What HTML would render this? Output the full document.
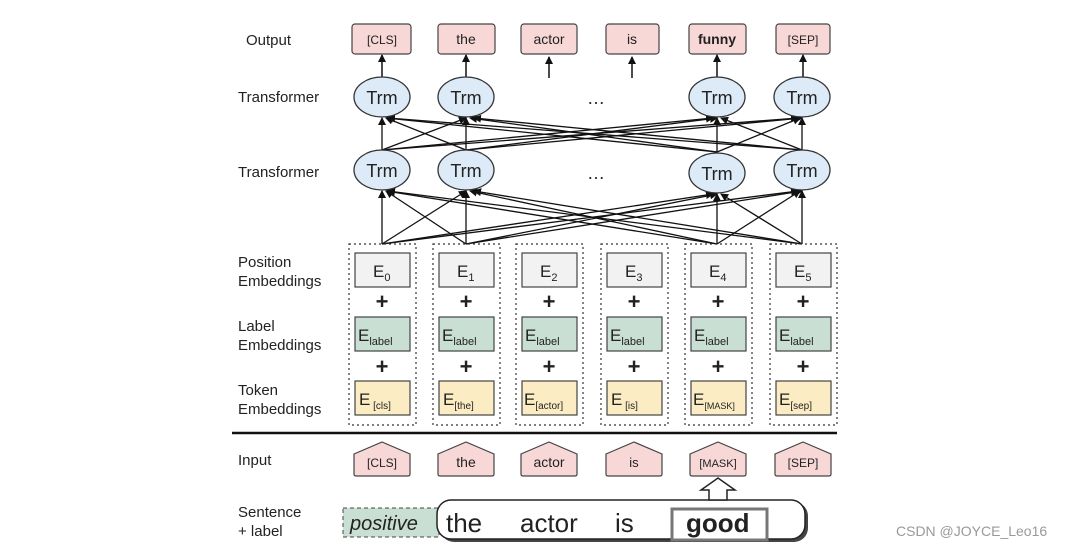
<!DOCTYPE html>
<html><head><meta charset="utf-8"><style>
body{margin:0;background:#fff}
svg{display:block}
text{font-family:"Liberation Sans",sans-serif;fill:#222}
</style></head><body>
<svg width="1080" height="552" viewBox="0 0 1080 552">
<defs>
<marker id="a" markerWidth="8" markerHeight="8" refX="7" refY="4" orient="auto" markerUnits="userSpaceOnUse"><path d="M0,0L8,4L0,8z" fill="#111"/></marker>
</defs>
<!-- left labels -->
<g font-size="15">
<text x="246" y="45">Output</text>
<text x="238" y="102">Transformer</text>
<text x="238" y="177">Transformer</text>
<text x="238" y="267">Position</text><text x="238" y="286">Embeddings</text>
<text x="238" y="331">Label</text><text x="238" y="350">Embeddings</text>
<text x="238" y="395">Token</text><text x="238" y="414">Embeddings</text>
<text x="238" y="465">Input</text>
<text x="238" y="517">Sentence</text><text x="238" y="536">+ label</text>
</g>
<!-- output boxes -->
<g fill="#f8d7d7" stroke="#444" stroke-width="1.2">
<rect x="352" y="24" width="59" height="30" rx="3"/>
<rect x="438" y="24" width="57" height="30" rx="3"/>
<rect x="521" y="24" width="56" height="30" rx="3"/>
<rect x="606" y="24" width="53" height="30" rx="3"/>
<rect x="689" y="24" width="57" height="30" rx="3"/>
<rect x="776" y="24" width="54" height="30" rx="3"/>
</g>
<g font-size="14" text-anchor="middle">
<text x="382" y="44" font-size="12">[CLS]</text>
<text x="466" y="44">the</text>
<text x="549" y="44">actor</text>
<text x="632" y="44">is</text>
<text x="717" y="44" font-weight="bold">funny</text>
<text x="803" y="44" font-size="12">[SEP]</text>
</g>
<g stroke="#111" stroke-width="1.5" marker-end="url(#a)">
<line x1="382" y1="77" x2="382" y2="55"/>
<line x1="466" y1="77" x2="466" y2="55"/>
<line x1="549" y1="78" x2="549" y2="57"/>
<line x1="632" y1="78" x2="632" y2="57"/>
<line x1="717" y1="77" x2="717" y2="55"/>
<line x1="803" y1="77" x2="803" y2="55"/>
</g>
<!-- connections upper -->
<g stroke="#111" stroke-width="1.3" marker-end="url(#a)">
<line x1="382" y1="150" x2="382" y2="118"/><line x1="382" y1="150" x2="466" y2="118"/><line x1="382" y1="150" x2="713" y2="118"/><line x1="382" y1="150" x2="798" y2="118"/>
<line x1="466" y1="150" x2="386" y2="118"/><line x1="466" y1="150" x2="466" y2="118"/><line x1="466" y1="150" x2="717" y2="118"/><line x1="466" y1="150" x2="802" y2="118"/>
<line x1="717" y1="152" x2="386" y2="118"/><line x1="717" y1="152" x2="470" y2="118"/><line x1="717" y1="152" x2="717" y2="118"/><line x1="717" y1="152" x2="800" y2="118"/>
<line x1="802" y1="150" x2="388" y2="118"/><line x1="802" y1="150" x2="474" y2="118"/><line x1="802" y1="150" x2="721" y2="118"/><line x1="802" y1="150" x2="802" y2="118"/>
</g>
<!-- connections lower -->
<g stroke="#111" stroke-width="1.3" marker-end="url(#a)">
<line x1="382" y1="244" x2="382" y2="191"/><line x1="382" y1="244" x2="466" y2="191"/><line x1="382" y1="244" x2="713" y2="194"/><line x1="382" y1="244" x2="798" y2="191"/>
<line x1="466" y1="244" x2="386" y2="191"/><line x1="466" y1="244" x2="466" y2="191"/><line x1="466" y1="244" x2="717" y2="194"/><line x1="466" y1="244" x2="802" y2="191"/>
<line x1="717" y1="244" x2="386" y2="191"/><line x1="717" y1="244" x2="470" y2="191"/><line x1="717" y1="244" x2="717" y2="194"/><line x1="717" y1="244" x2="800" y2="191"/>
<line x1="802" y1="244" x2="388" y2="191"/><line x1="802" y1="244" x2="474" y2="191"/><line x1="802" y1="244" x2="721" y2="194"/><line x1="802" y1="244" x2="802" y2="191"/>
</g>
<!-- Trm ellipses -->
<g fill="#ddeaf7" stroke="#333" stroke-width="1.3">
<ellipse cx="382" cy="97" rx="28" ry="20"/><ellipse cx="466" cy="97" rx="28" ry="20"/>
<ellipse cx="717" cy="97" rx="28" ry="20"/><ellipse cx="802" cy="97" rx="28" ry="20"/>
<ellipse cx="382" cy="170" rx="28" ry="20"/><ellipse cx="466" cy="170" rx="28" ry="20"/>
<ellipse cx="717" cy="173" rx="28" ry="20"/><ellipse cx="802" cy="170" rx="28" ry="20"/>
</g>
<g font-size="18" text-anchor="middle">
<text x="382" y="104">Trm</text><text x="466" y="104">Trm</text><text x="717" y="104">Trm</text><text x="802" y="104">Trm</text>
<text x="382" y="177">Trm</text><text x="466" y="177">Trm</text><text x="717" y="180">Trm</text><text x="802" y="177">Trm</text>
<text x="596" y="104">…</text><text x="596" y="179">…</text>
</g>
<!-- embedding columns -->
<g id="cols">
<g fill="none" stroke="#333" stroke-width="1.2" stroke-dasharray="2,3">
<rect x="349" y="244" width="67" height="181"/><rect x="433" y="244" width="67" height="181"/>
<rect x="516" y="244" width="67" height="181"/><rect x="601" y="244" width="67" height="181"/>
<rect x="685" y="244" width="67" height="181"/><rect x="770" y="244" width="67" height="181"/>
</g>
</g>
<g stroke="#444" stroke-width="1.2">
<g fill="#f2f2f2">
<rect x="355" y="253" width="55" height="34"/><rect x="439" y="253" width="55" height="34"/><rect x="522" y="253" width="55" height="34"/><rect x="607" y="253" width="55" height="34"/><rect x="691" y="253" width="55" height="34"/><rect x="776" y="253" width="55" height="34"/>
</g>
<g fill="#c9dfd3">
<rect x="355" y="317" width="55" height="34"/><rect x="439" y="317" width="55" height="34"/><rect x="522" y="317" width="55" height="34"/><rect x="607" y="317" width="55" height="34"/><rect x="691" y="317" width="55" height="34"/><rect x="776" y="317" width="55" height="34"/>
</g>
<g fill="#fbecc3">
<rect x="355" y="381" width="55" height="34"/><rect x="439" y="381" width="55" height="34"/><rect x="522" y="381" width="55" height="34"/><rect x="607" y="381" width="55" height="34"/><rect x="691" y="381" width="55" height="34"/><rect x="776" y="381" width="55" height="34"/>
</g>
</g>
<g font-size="17">
<text x="373" y="277">E<tspan font-size="11" dy="4">0</tspan></text>
<text x="457" y="277">E<tspan font-size="11" dy="4">1</tspan></text>
<text x="540" y="277">E<tspan font-size="11" dy="4">2</tspan></text>
<text x="625" y="277">E<tspan font-size="11" dy="4">3</tspan></text>
<text x="709" y="277">E<tspan font-size="11" dy="4">4</tspan></text>
<text x="794" y="277">E<tspan font-size="11" dy="4">5</tspan></text>
<text x="358" y="341">E<tspan font-size="11" dy="4">label</tspan></text>
<text x="442" y="341">E<tspan font-size="11" dy="4">label</tspan></text>
<text x="525" y="341">E<tspan font-size="11" dy="4">label</tspan></text>
<text x="610" y="341">E<tspan font-size="11" dy="4">label</tspan></text>
<text x="694" y="341">E<tspan font-size="11" dy="4">label</tspan></text>
<text x="779" y="341">E<tspan font-size="11" dy="4">label</tspan></text>
<text x="359" y="405">E<tspan font-size="10" dy="4"> [cls]</tspan></text>
<text x="443" y="405">E<tspan font-size="10" dy="4">[the]</tspan></text>
<text x="524" y="405">E<tspan font-size="10" dy="4">[actor]</tspan></text>
<text x="611" y="405">E<tspan font-size="10" dy="4"> [is]</tspan></text>
<text x="693" y="405">E<tspan font-size="9" dy="4">[MASK]</tspan></text>
<text x="779" y="405">E<tspan font-size="10" dy="4">[sep]</tspan></text>
</g>
<g font-size="22" font-weight="bold" text-anchor="middle">
<text x="382" y="309">+</text><text x="466" y="309">+</text><text x="549" y="309">+</text><text x="634" y="309">+</text><text x="718" y="309">+</text><text x="803" y="309">+</text>
<text x="382" y="374">+</text><text x="466" y="374">+</text><text x="549" y="374">+</text><text x="634" y="374">+</text><text x="718" y="374">+</text><text x="803" y="374">+</text>
</g>
<line x1="232" y1="433" x2="837" y2="433" stroke="#111" stroke-width="2.5"/>
<!-- input pentagons -->
<g fill="#f8d7d7" stroke="#444" stroke-width="1.2">
<path d="M354,454 L382,442 L410,454 L410,474 Q410,476 408,476 L356,476 Q354,476 354,474Z"/>
<path d="M438,454 L466,442 L494,454 L494,474 Q494,476 492,476 L440,476 Q438,476 438,474Z"/>
<path d="M521,454 L549,442 L577,454 L577,474 Q577,476 575,476 L523,476 Q521,476 521,474Z"/>
<path d="M606,454 L634,442 L662,454 L662,474 Q662,476 660,476 L608,476 Q606,476 606,474Z"/>
<path d="M690,454 L718,442 L746,454 L746,474 Q746,476 744,476 L692,476 Q690,476 690,474Z"/>
<path d="M775,454 L803,442 L831,454 L831,474 Q831,476 829,476 L777,476 Q775,476 775,474Z"/>
</g>
<g font-size="13" text-anchor="middle">
<text x="382" y="467" font-size="12">[CLS]</text><text x="466" y="467" font-size="14">the</text><text x="549" y="467" font-size="14">actor</text>
<text x="634" y="467">is</text><text x="718" y="467" font-size="11">[MASK]</text><text x="803" y="467" font-size="12">[SEP]</text>
</g>
<!-- sentence -->
<rect x="343" y="508" width="96" height="29" fill="#c9dfd3" stroke="#444" stroke-dasharray="4,3"/>
<text x="350" y="530" font-size="20" font-style="italic">positive</text>
<rect x="440" y="502" width="368" height="40" rx="14" fill="#444"/>
<rect x="437" y="500" width="368" height="39" rx="14" fill="#fff" stroke="#222" stroke-width="1.5"/>
<rect x="672" y="509" width="95" height="31" fill="#fff" stroke="#777" stroke-width="3"/>
<g font-size="26">
<text x="446" y="532">the</text><text x="520" y="532">actor</text><text x="615" y="532">is</text>
<text x="686" y="532" font-weight="bold">good</text>
</g>
<path d="M709,500 L709,490 L701,490 L718,478 L735,490 L727,490 L727,500Z" fill="#fff" stroke="#222" stroke-width="1.5"/>
<text x="896" y="536" font-size="14" fill="#999" style="fill:#999">CSDN @JOYCE_Leo16</text>
</svg>
</body></html>
